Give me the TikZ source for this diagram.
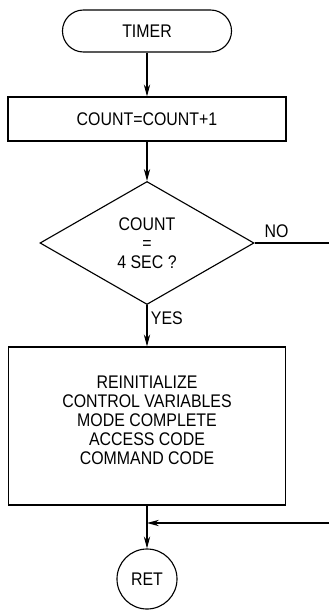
\documentclass[tikz,border=0pt]{standalone}
\usepackage{fontspec}
\setmainfont{Liberation Sans}[FakeStretch=0.87]
\usetikzlibrary{arrows.meta,calc,positioning,shapes.geometric}

\begin{document}
\begin{tikzpicture}[x=0.025cm,y=-0.025cm,line width=.8pt,
    font=\fontsize{13}{13.6}\selectfont,
    flow/.style={-{Stealth[length=8.5pt,width=4.5pt]}},
    box/.style={draw,rectangle,align=center,inner sep=0pt},
    lbl/.style={inner sep=1pt}]
  \useasboundingbox (0,0) rectangle (329,610);
  \node[box,rounded corners=.525cm,minimum width=4.225cm,minimum height=1.05cm] (timer) at (147,31) {TIMER};
  \node[box,minimum width=6.95cm,minimum height=1.1cm] (count) at (147,119) {COUNT=COUNT+1};
  \node[draw,diamond,aspect=1.74,minimum width=5.35cm,minimum height=3.075cm,align=center,inner sep=0pt] (test) at (147,243) {COUNT\\=\\4 SEC ?};
  \node[box,minimum width=6.925cm,minimum height=3.95cm,text depth=8.5pt] (reinit) at (147,426)
    {REINITIALIZE\\CONTROL VARIABLES\\MODE COMPLETE\\ACCESS CODE\\COMMAND CODE};
  \node[draw,circle,minimum size=1.5cm,inner sep=0pt] (ret) at (147,579) {RET};
  \coordinate (noend) at (329,243);
  \coordinate (join) at (147,523);
  \coordinate (back) at (329,523);
  % flow
  \draw[flow] (timer) -- (count);
  \draw[flow] (count) -- (test);
  \draw (test.east) -- (noend);
  \node[lbl,anchor=south west] (no) at ($(test.east)+(8,-3)$) {NO};
  \draw[flow] (test.south) -- (reinit.north);
  \node[lbl,anchor=west] (yes) at ($(test.south)+(2,13)$) {YES};
  \draw[flow] (reinit.south) -- (ret.north);
  \draw[flow] (back) -- (join);
\end{tikzpicture}
\end{document}
